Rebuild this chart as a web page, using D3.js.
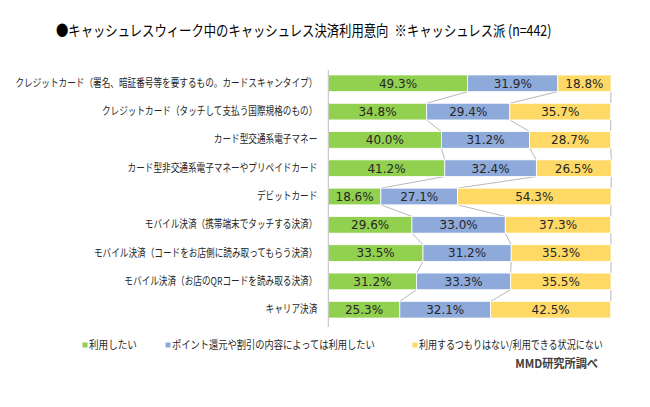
<!DOCTYPE html>
<html><head><meta charset="utf-8">
<script src="https://cdn.jsdelivr.net/npm/d3@7"></script>
<style>
html,body{margin:0;padding:0;background:#fff;}
svg{display:block;}
</style></head>
<body>
<svg id="chart" width="650" height="407"></svg>
<script>
const categories = [
  "クレジットカード（署名、暗証番号等を要するもの。カードスキャンタイプ）",
  "クレジットカード（タッチして支払う国際規格のもの）",
  "カード型交通系電子マネー",
  "カード型非交通系電子マネーやプリペイドカード",
  "デビットカード",
  "モバイル決済（携帯端末でタッチする決済）",
  "モバイル決済（コードをお店側に読み取ってもらう決済）",
  "モバイル決済（お店のQRコードを読み取る決済）",
  "キャリア決済"
];
const seriesNames = [
  "利用したい",
  "ポイント還元や割引の内容によっては利用したい",
  "利用するつもりはない/利用できる状況にない"
];
const want      = [49.3, 34.8, 40.0, 41.2, 18.6, 29.6, 33.5, 31.2, 25.3];
const depends   = [31.9, 29.4, 31.2, 32.4, 27.1, 33.0, 31.2, 33.3, 32.1];
const notUse    = [18.8, 35.7, 28.7, 26.5, 54.3, 37.3, 35.3, 35.5, 42.5];
const colors = ["#92d050", "#8eaadb", "#ffd966"];
const title = "●キャッシュレスウィーク中のキャッシュレス決済利用意向\u2002※キャッシュレス派 (n=442)";
const source = "MMD研究所調べ";

const svg = d3.select("#chart");
const jp = "'Noto Sans CJK JP','Noto Sans',sans-serif";

// place a horizontally-compressed text so that it spans width w
function squeezed(parent, txt, tx, ty, w, anchor, size, weight, fill) {
  const g = parent.append("g").attr("transform", `translate(${tx},${ty})`);
  const t = g.append("text").attr("x", 0).attr("y", 0).attr("dy", "0.36em")
    .attr("text-anchor", anchor || "start")
    .attr("font-family", jp).attr("font-size", size).attr("font-weight", weight || "normal")
    .attr("fill", fill).text(txt);
  const nat = t.node().getComputedTextLength();
  t.attr("transform", `scale(${w / nat},1)`);
  return t;
}

const x = d3.scaleLinear().domain([0, 100]).range([328.3, 611]);
const y = d3.scaleBand().domain(categories).range([69.3, 323.7]).paddingInner(0.41).paddingOuter(0.2);
const bh = y.bandwidth();

const rows = categories.map((c, i) => {
  const vals = [want[i], depends[i], notUse[i]];
  let acc = 0;
  const segs = vals.map((v, k) => { const s = {k, v, x0: acc, x1: acc + v}; acc += v; return s; });
  return {c, i, segs};
});

// series lines
const gl = svg.append("g");
for (let i = 0; i < rows.length - 1; i++) {
  for (let k = 0; k < 3; k++) {
    gl.append("line")
      .attr("x1", x(rows[i].segs[k].x1)).attr("y1", y(rows[i].c) + bh)
      .attr("x2", x(rows[i + 1].segs[k].x1)).attr("y2", y(rows[i + 1].c))
      .attr("stroke", "#a6a6a6").attr("stroke-width", 0.8);
  }
}

// bars
const gb = svg.append("g");
rows.forEach(r => {
  r.segs.forEach(s => {
    gb.append("rect")
      .attr("x", x(s.x0)).attr("y", y(r.c))
      .attr("width", x(s.x1) - x(s.x0)).attr("height", bh)
      .attr("fill", colors[s.k]).attr("stroke", "#fff").attr("stroke-width", 0.8);
    gb.append("text")
      .attr("x", (x(s.x0) + x(s.x1)) / 2).attr("y", y(r.c) + bh / 2)
      .attr("dy", "0.36em").attr("text-anchor", "middle")
      .attr("font-family", "'DejaVu Sans',sans-serif").attr("font-size", 12)
      .attr("fill", "#262626")
      .text(s.v.toFixed(1) + "%");
  });
});

// axis
const sc = 0.785;
const ax = d3.axisLeft(y).tickSize(0).tickPadding(10);
const gA = svg.append("g").attr("transform", `translate(${x(0)},0)`).call(ax);
gA.select(".domain").attr("stroke", "#bfbfbf").attr("d", "M0,70V327");
gA.selectAll("text").attr("font-family", jp).attr("font-size", 11).attr("fill", "#262626")
  .attr("x", -11 / sc).attr("transform", `scale(${sc},1)`);

// title
squeezed(svg, title, 56, 31, 496, "start", 15, "normal", "#000");

// legend
const legendX = [82.5, 165.5, 412.5];
const legendW = [48, 203, 184];
seriesNames.forEach((n, k) => {
  svg.append("rect").attr("x", legendX[k]).attr("y", 342.5).attr("width", 5).attr("height", 5).attr("fill", colors[k]);
  squeezed(svg, n, legendX[k] + 6.5, 345, legendW[k], "start", 11, "normal", "#262626");
});

squeezed(svg, source, 598, 364, 83, "end", 12, "bold", "#404040");
</script>
</body></html>
